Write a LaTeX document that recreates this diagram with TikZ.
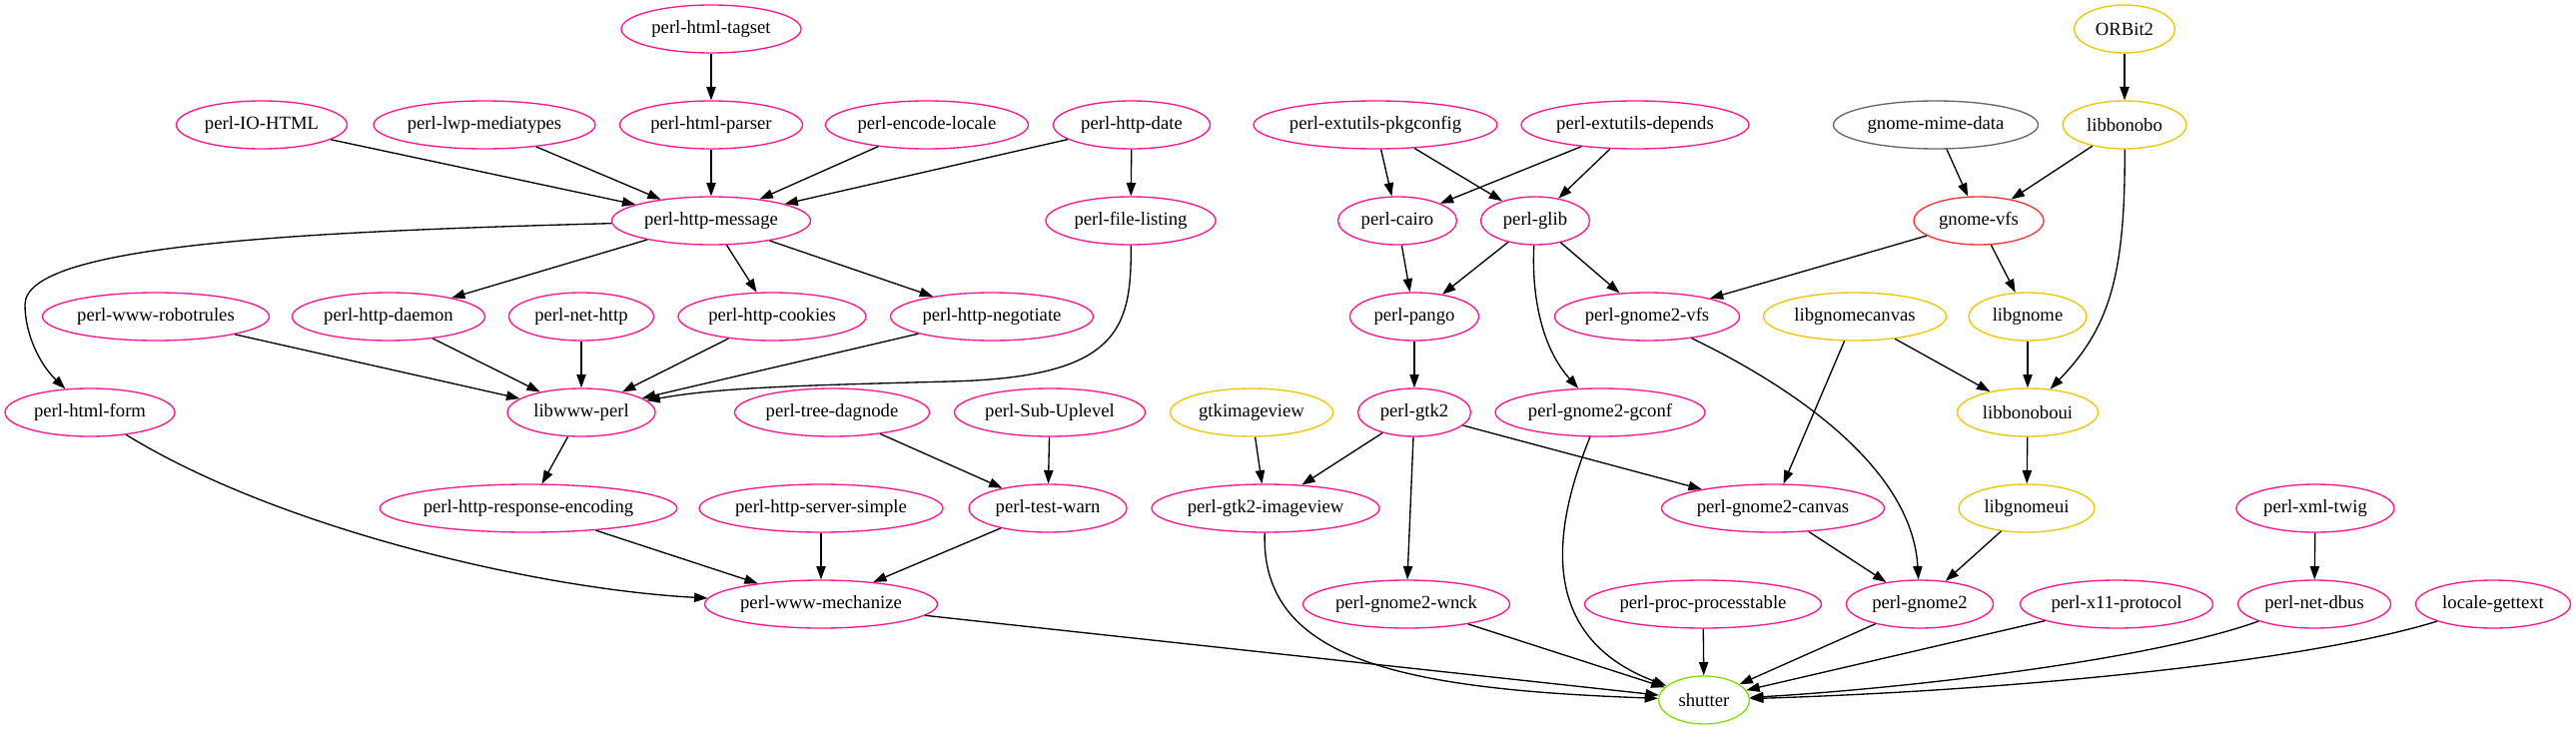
\documentclass[tikz,border=0pt]{standalone}
\usepackage{fontspec}
\setmainfont{Liberation Serif}
\usetikzlibrary{shapes.geometric,arrows.meta}
\definecolor{pk}{HTML}{FF1493}
\definecolor{gd}{HTML}{F2C500}
\definecolor{rd}{HTML}{FF3030}
\definecolor{gy}{HTML}{666666}
\definecolor{gn}{HTML}{7FE000}
\begin{document}
\begin{tikzpicture}[x=0.75pt,y=-0.75pt,
  nd/.style={ellipse, draw=pk, line width=1pt, minimum height=36pt, inner sep=0pt, font=\fontsize{14}{16}\selectfont},
  mw/.style={minimum width={#1*0.75pt}},
  gold/.style={draw=gd},
  ed/.style={draw=black, line width=1pt, -{Triangle[length=10pt,width=7pt]}}]
\useasboundingbox (0,0) rectangle (2579,731);
% row 1
\node[nd,mw=180] (tagset) at (712,29) {perl-html-tagset};
\node[nd,mw=101,gold] (orbit) at (2127,29) {ORBit2};
% row 2
\node[nd,mw=171] (iohtml) at (262,125) {perl-IO-HTML};
\node[nd,mw=222] (lwp) at (485,125) {perl-lwp-mediatypes};
\node[nd,mw=183] (hparser) at (712,125) {perl-html-parser};
\node[nd,mw=203] (enc) at (928,125) {perl-encode-locale};
\node[nd,mw=157] (hdate) at (1133,125) {perl-http-date};
\node[nd,mw=244] (pkgc) at (1377,125) {perl-extutils-pkgconfig};
\node[nd,mw=228] (deps) at (1637,125) {perl-extutils-depends};
\node[nd,mw=205,draw=gy] (mime) at (1938,125) {gnome-mime-data};
\node[nd,mw=124,gold] (bonobo) at (2127,125) {libbonobo};
% row 3
\node[nd,mw=199] (msg) at (712,221) {perl-http-message};
\node[nd,mw=170] (flist) at (1132,221) {perl-file-listing};
\node[nd,mw=119] (cairo) at (1399,221) {perl-cairo};
\node[nd,mw=109] (glib) at (1537,221) {perl-glib};
\node[nd,mw=130,draw=rd] (gvfs) at (1981,221) {gnome-vfs};
% row 4
\node[nd,mw=227] (robot) at (156,317) {perl-www-robotrules};
\node[nd,mw=193] (daemon) at (389,317) {perl-http-daemon};
\node[nd,mw=145] (nethttp) at (582,317) {perl-net-http};
\node[nd,mw=188] (cookies) at (773,317) {perl-http-cookies};
\node[nd,mw=203] (nego) at (993,317) {perl-http-negotiate};
\node[nd,mw=129] (pango) at (1416,317) {perl-pango};
\node[nd,mw=185] (g2vfs) at (1649,317) {perl-gnome2-vfs};
\node[nd,mw=183,gold] (gcanvas) at (1857,317) {libgnomecanvas};
\node[nd,mw=118,gold] (libgnome) at (2030,317) {libgnome};
% row 5
\node[nd,mw=170] (hform) at (90,413) {perl-html-form};
\node[nd,mw=148] (www) at (582,413) {libwww-perl};
\node[nd,mw=195] (dagnode) at (833,413) {perl-tree-dagnode};
\node[nd,mw=191] (subup) at (1051,413) {perl-Sub-Uplevel};
\node[nd,mw=163,gold] (gtkiv) at (1253,413) {gtkimageview};
\node[nd,mw=113] (gtk2) at (1416,413) {perl-gtk2};
\node[nd,mw=210] (gconf) at (1602,413) {perl-gnome2-gconf};
\node[nd,mw=141,gold] (bonoboui) at (2030,413) {libbonoboui};
% row 6
\node[nd,mw=291] (respenc) at (529,509) {perl-http-response-encoding};
\node[nd,mw=244] (srvsimple) at (822,509) {perl-http-server-simple};
\node[nd,mw=158] (testwarn) at (1049,509) {perl-test-warn};
\node[nd,mw=228] (gtk2iv) at (1267,509) {perl-gtk2-imageview};
\node[nd,mw=223] (g2canvas) at (1775,509) {perl-gnome2-canvas};
\node[nd,mw=136,gold] (gnomeui) at (2029,509) {libgnomeui};
\node[nd,mw=158] (xmltwig) at (2318,509) {perl-xml-twig};
% row 7
\node[nd,mw=233] (mech) at (822,605) {perl-www-mechanize};
\node[nd,mw=207] (wnck) at (1408,605) {perl-gnome2-wnck};
\node[nd,mw=237] (proc) at (1705,605) {perl-proc-processtable};
\node[nd,mw=147] (gnome2) at (1922,605) {perl-gnome2};
\node[nd,mw=193] (x11) at (2119,605) {perl-x11-protocol};
\node[nd,mw=153] (dbus) at (2317,605) {perl-net-dbus};
\node[nd,mw=155] (gettext) at (2496,605) {locale-gettext};
% row 8
\node[nd,mw=91,draw=gn] (shutter) at (1706,701) {shutter};
% edges
\draw[ed] (tagset) -- (hparser);
\draw[ed] (iohtml) -- (msg);
\draw[ed] (lwp) -- (msg);
\draw[ed] (hparser) -- (msg);
\draw[ed] (enc) -- (msg);
\draw[ed] (hdate) -- (msg);
\draw[ed] (hdate) -- (flist);
\draw[ed] (msg) .. controls (300,232) and (25,245) .. (25,305) .. controls (25,335) and (40,365) .. (hform);
\draw[ed] (msg) -- (daemon);
\draw[ed] (msg) -- (cookies);
\draw[ed] (msg) -- (nego);
\draw[ed] (robot) -- (www);
\draw[ed] (daemon) -- (www);
\draw[ed] (nethttp) -- (www);
\draw[ed] (cookies) -- (www);
\draw[ed] (nego) -- (www);
\draw[ed] (flist) .. controls (1133,330) and (1120,378) .. (950,382) .. controls (800,386) and (720,388) .. (www);
\draw[ed] (www) -- (respenc);
\draw[ed] (hform) .. controls (280,530) and (540,590) .. (mech);
\draw[ed] (respenc) -- (mech);
\draw[ed] (srvsimple) -- (mech);
\draw[ed] (testwarn) -- (mech);
\draw[ed] (dagnode) -- (testwarn);
\draw[ed] (subup) -- (testwarn);
\draw[ed] (mech) -- (shutter);
\draw[ed] (pkgc) -- (cairo);
\draw[ed] (pkgc) -- (glib);
\draw[ed] (deps) -- (cairo);
\draw[ed] (deps) -- (glib);
\draw[ed] (cairo) -- (pango);
\draw[ed] (glib) -- (pango);
\draw[ed] (glib) -- (g2vfs);
\draw[ed] (glib) .. controls (1533,300) and (1545,350) .. (gconf);
\draw[ed] (pango) -- (gtk2);
\draw[ed] (gtkiv) -- (gtk2iv);
\draw[ed] (gtk2) -- (gtk2iv);
\draw[ed] (gtk2) -- (wnck);
\draw[ed] (gtk2) -- (g2canvas);
\draw[ed] (gtk2iv) .. controls (1262,660) and (1400,690) .. (shutter);
\draw[ed] (wnck) -- (shutter);
\draw[ed] (gconf) .. controls (1550,540) and (1545,640) .. (shutter);
\draw[ed] (proc) -- (shutter);
\draw[ed] (gnome2) -- (shutter);
\draw[ed] (x11) -- (shutter);
\draw[ed] (dbus.197) .. controls (2150,662) and (1900,690) .. (shutter);
\draw[ed] (gettext.197) .. controls (2300,665) and (2000,692) .. (shutter);
\draw[ed] (mime) -- (gvfs);
\draw[ed] (bonobo) -- (gvfs);
\draw[ed] (orbit) -- (bonobo);
\draw[ed] (bonobo) .. controls (2128,280) and (2110,330) .. (bonoboui);
\draw[ed] (gvfs) -- (g2vfs);
\draw[ed] (gvfs) -- (libgnome);
\draw[ed] (gcanvas) -- (bonoboui);
\draw[ed] (gcanvas) -- (g2canvas);
\draw[ed] (libgnome) -- (bonoboui);
\draw[ed] (bonoboui) -- (gnomeui);
\draw[ed] (gnomeui) -- (gnome2);
\draw[ed] (g2canvas) -- (gnome2);
\draw[ed] (g2vfs) .. controls (1820,400) and (1915,480) .. (gnome2);
\draw[ed] (xmltwig) -- (dbus);
\end{tikzpicture}
\end{document}
